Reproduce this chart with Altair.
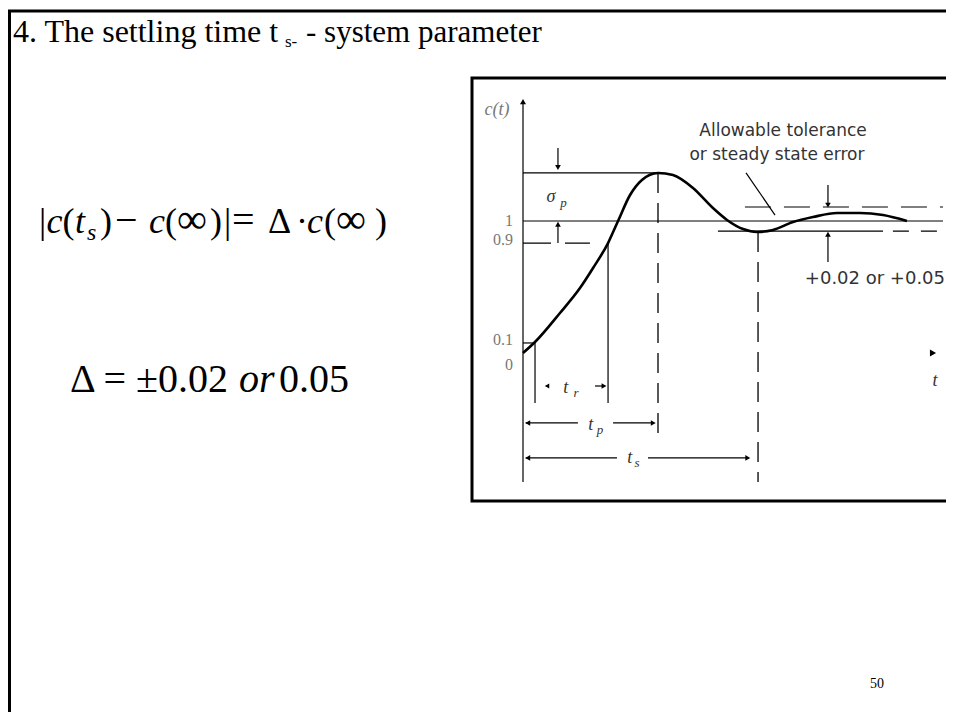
import altair as alt
import pandas as pd

W, H = 938, 704

# ---------------- values ----------------
# time in units of the peak time t_p, response in units of c(inf)
t_curve = [0.0, 0.089, 0.274, 0.422, 0.519, 0.630, 0.704, 0.793, 0.881, 1.0,
           1.111, 1.259, 1.407, 1.511, 1.630, 1.733, 1.852, 2.0, 2.148, 2.326,
           2.496, 2.667, 2.844]
c_curve = [0.0, 0.083, 0.303, 0.492, 0.644, 0.833, 1.0, 1.197, 1.311, 1.364,
           1.348, 1.250, 1.098, 1.008, 0.939, 0.917, 0.932, 0.992, 1.030, 1.061,
           1.061, 1.045, 1.0]

c_final = 1.0
c_peak = 1.364
c_90 = 0.833      # drawn position of the 0.9 level
c_10 = 0.076      # drawn position of the 0.1 level
band_hi = 1.106
band_lo = 0.924

t_10 = 0.089
t_90 = 0.630
t_p = 1.0
t_s = 1.741
t_end = 3.111

tick_labels = ["1", "0.9", "0.1", "0"]
tick_levels = [c_final, c_90 + 0.02, c_10 + 0.02, -0.09]

# ---------------- scales ----------------
X0, KX = 515.0, 135.0
Y0, KY = 345.0, 132.0
xs = alt.Scale(domain=[(0 - X0) / KX, (W - X0) / KX], nice=False, zero=False)
ys = alt.Scale(domain=[(Y0 - H) / KY, Y0 / KY], nice=False, zero=False)

SERIF = "Liberation Serif"
SANS = "DejaVu Sans"


def rules(rows, dash=None, width=1.2):
    df = pd.DataFrame(rows, columns=["t1", "t2", "c1", "c2"])
    kw = dict(color="black", strokeWidth=width)
    if dash:
        kw["strokeDash"] = dash
    return alt.Chart(df).mark_rule(**kw).encode(
        x=alt.X("t1:Q", scale=xs, axis=None),
        x2="t2:Q",
        y=alt.Y("c1:Q", scale=ys, axis=None),
        y2="c2:Q",
    )


def dtext(rows, font=SANS, size=13, color="#333", italic=False, align="center"):
    df = pd.DataFrame(rows, columns=["t", "c", "label"])
    kw = dict(font=font, fontSize=size, color=color, align=align, baseline="middle")
    if italic:
        kw["fontStyle"] = "italic"
    return alt.Chart(df).mark_text(**kw).encode(
        x=alt.X("t:Q", scale=xs, axis=None),
        y=alt.Y("c:Q", scale=ys, axis=None),
        text="label:N",
    )


one = pd.DataFrame({"k": [0]})


def ptext(s, px, py, size, italic=False, font=SERIF, color="black", align="left"):
    kw = dict(font=font, fontSize=size, color=color, align=align, baseline="alphabetic")
    if italic:
        kw["fontStyle"] = "italic"
    return alt.Chart(one).mark_text(**kw).encode(
        x=alt.value(px - 8), y=alt.value(py - 8), text=alt.value(s)
    )


layers = []

# slide frame and diagram box
layers.append(alt.Chart(one).mark_rect(fill="white", stroke="black", strokeWidth=3).encode(
    x=alt.value(1.5), x2=alt.value(W + 20), y=alt.value(3), y2=alt.value(H + 20)))
layers.append(alt.Chart(one).mark_rect(fill="white", stroke="black", strokeWidth=3).encode(
    x=alt.value(472 - 8), x2=alt.value(W + 20), y=alt.value(78 - 8), y2=alt.value(501 - 8)))

# response curve
curve_df = pd.DataFrame({"t": t_curve, "c": c_curve})
layers.append(alt.Chart(curve_df).mark_line(color="black", strokeWidth=2.6, interpolate="monotone").encode(
    x=alt.X("t:Q", scale=xs, axis=None), y=alt.Y("c:Q", scale=ys, axis=None)))

# solid lines
layers.append(rules([
    (0, 0, -0.977, 1.90),                 # c(t) axis
    (0, t_end, c_final, c_final),          # final value
    (0, t_p, c_peak, c_peak),              # peak level
    (0, t_10, c_10, c_10),                 # 0.1 level
    (t_10, t_10, c_10, -0.379),            # start of t_r
    (t_90, t_90, c_90, -0.379),            # end of t_r
    (1.444, 2.667, band_lo, band_lo),      # lower tolerance (solid part)
    (1.652, 1.867, 1.364, 1.045),          # leader line
    (0.533, 0.60, -0.25, -0.25),           # t_r arrow shaft
    (0.02, 0.407, -0.53, -0.53),           # t_p arrow
    (0.667, 0.97, -0.53, -0.53),
    (0.02, 0.696, -0.795, -0.795),         # t_s arrow
    (0.926, 1.67, -0.795, -0.795),
    (0.259, 0.259, 1.553, 1.42),           # overshoot arrows
    (0.259, 0.259, c_90, 0.96),
    (2.259, 2.259, 1.273, 1.13),           # tolerance arrows
    (2.259, 2.259, 0.689, 0.90),
]))

# dashed lines
layers.append(rules([(0, 0.496, c_90, c_90)], dash=[28, 14]))
layers.append(rules([(t_p, t_p, c_peak, -0.636), (t_s, t_s, 0.917, -0.977)], dash=[20, 10], width=1.3))
layers.append(rules([(1.644, t_end, band_hi, band_hi)], dash=[26, 13]))
layers.append(rules([(2.74, t_end, band_lo, band_lo)], dash=[16, 12]))

# arrow heads
heads = pd.DataFrame([
    (0, 1.905, "triangle-up", 36),
    (3.037, 0, "triangle-right", 50),
    (0.259, 1.405, "triangle-down", 32),
    (0.259, 0.975, "triangle-up", 32),
    (2.259, 1.12, "triangle-down", 32),
    (2.259, 0.90, "triangle-up", 32),
    (0.178, -0.25, "triangle-left", 26),
    (0.60, -0.25, "triangle-right", 32),
    (0.035, -0.53, "triangle-left", 32),
    (0.965, -0.53, "triangle-right", 32),
    (0.035, -0.795, "triangle-left", 32),
    (1.665, -0.795, "triangle-right", 32),
], columns=["t", "c", "shape", "sz"])
layers.append(alt.Chart(heads).mark_point(filled=True, color="black", opacity=1).encode(
    x=alt.X("t:Q", scale=xs, axis=None), y=alt.Y("c:Q", scale=ys, axis=None),
    shape=alt.Shape("shape:N", scale=None), size=alt.Size("sz:Q", scale=None)))

# diagram annotations
layers.append(dtext([
    (1.926, 1.682, "Allowable tolerance"),
    (1.881, 1.500, "or steady state error"),
], size=17, color="#333"))
layers.append(dtext([(2.607, 0.561, "+0.02 or +0.05")], size=18, color="#333"))

layers.append(dtext([(-0.074, v, s) for s, v in zip(tick_labels, tick_levels)],
                    font=SERIF, size=16, color="#777", align="right"))

layers.append(dtext([(-0.193, 1.841, "c(t)")], font=SERIF, size=18, color="#777", italic=True))
layers.append(dtext([
    (0.207, 1.182, "σ"),
    (0.316, -0.265, "t"),
    (0.501, -0.545, "t"),
    (0.790, -0.795, "t"),
    (3.052, -0.212, "t"),
], font=SERIF, size=18, color="#333", italic=True))
layers.append(dtext([
    (0.300, 1.140, "p"),
    (0.393, -0.303, "r"),
    (0.570, -0.583, "p"),
    (0.844, -0.833, "s"),
], font=SERIF, size=13, color="#333", italic=True))

# slide title
layers.append(ptext("4. The settling time t", 13, 42, 32))
layers.append(ptext("s-", 285, 47, 17))
layers.append(ptext("- system parameter", 306, 42, 31))

# formula 1
F1, FB, FM, B1 = 36, 42, 40, 233
for s, px, fs in [("|", 39, F1), ("(", 62.5, F1), (")", 100, F1), ("\u2212", 115, FM),
                  ("(", 165, F1), ("\u221e", 177, FB), (")", 210, F1), ("|", 224, F1),
                  ("=", 232, FM), ("\u0394", 268, F1), ("\u00b7", 296, F1),
                  ("(", 324, F1), ("\u221e", 336, FB), (")", 375, F1)]:
    layers.append(ptext(s, px, B1, fs))
for s, px in [("c", 46.5), ("t", 75), ("c", 149), ("c", 307)]:
    layers.append(ptext(s, px, B1, F1, italic=True))
layers.append(ptext("s", 87, 240, 24, italic=True))

# formula 2
layers.append(ptext("\u0394 = \u00b10.02", 70, 392, 40))
layers.append(ptext("or", 239, 392, 40, italic=True))
layers.append(ptext("0.05", 279, 392, 40))

# page number
layers.append(ptext("50", 877, 688, 14, align="center"))

chart = alt.layer(*layers).properties(
    width=W, height=H, padding=0, autosize="none", background="white"
).configure_view(stroke=None)

chart.save("out.html", embed_options={"renderer": "svg", "actions": False})
